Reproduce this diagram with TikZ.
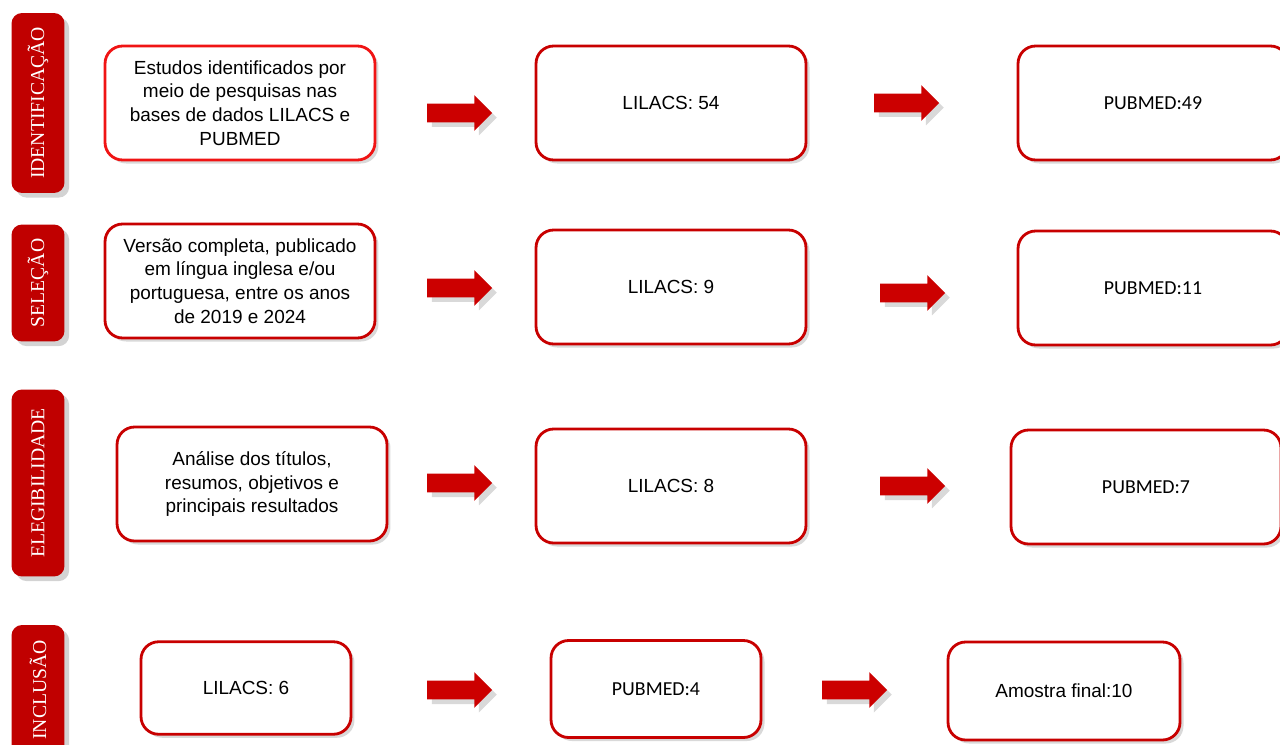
\documentclass[tikz,border=0pt]{standalone}
\usepackage{fontspec}
\setmainfont{Liberation Sans}
\newfontfamily\calibrifont{Carlito}
\newfontfamily\timesfont{Liberation Serif}
\usetikzlibrary{shapes.arrows,shadows}

\definecolor{redbox}{RGB}{200,0,0}
\definecolor{redlight}{RGB}{240,20,20}
\definecolor{redarrow}{RGB}{204,0,0}
\definecolor{redstage}{RGB}{192,0,0}

\tikzset{
  stage/.style={fill=redstage, rounded corners=6pt, rotate=90, text=white,
    minimum height=1.06cm, inner sep=0pt, drop shadow={opacity=0.35},
    font=\timesfont\fontsize{11.2}{13}\selectfont},
  box/.style={draw=redbox, line width=1.6pt, rounded corners=10pt, fill=white,
    minimum width=5.4cm, minimum height=2.28cm, align=center,
    drop shadow={opacity=0.3, shadow xshift=2pt, shadow yshift=-2pt},
    font=\fontsize{10.8}{13.5}\selectfont},
  smallbox/.style={box, minimum width=4.2cm, minimum height=1.85cm},
  dbtext/.style={font=\calibrifont\fontsize{11.3}{13}\selectfont},
  bigarrow/.style={single arrow, fill=redarrow, inner xsep=0pt, inner ysep=0.18cm,
    minimum width=0.7cm, single arrow head extend=0.17cm, single arrow head indent=0pt,
    minimum height=1.3cm, drop shadow={opacity=0.3}}
}

\begin{document}
\begin{tikzpicture}[x=0.02cm,y=-0.02cm]
  \clip (0,0) rectangle (1280,744);
  \useasboundingbox (0,0) rectangle (1280,744);

  % Stages
  \node[stage, minimum width=3.6cm] (ident) at (38,103) {IDENTIFICAÇÃO};
  \node[stage, minimum width=2.34cm] (selec) at (38,283) {SELEÇÃO};
  \node[stage, minimum width=3.74cm] (eleg) at (38,483) {ELEGIBILIDADE};
  \node[stage, minimum width=2.6cm] (incl) at (38,690) {INCLUSÃO};

  % Identificacao
  \node[box, draw=redlight] (estudos) at (240,103) {Estudos identificados por\\meio de pesquisas nas\\bases de dados LILACS e\\PUBMED};
  \node[box] (lilacsA) at (671,103) {LILACS: 54};
  \node[box, dbtext] (pubmedA) at (1153,103) {PUBMED:49};
  \node[bigarrow] (arrA1) at (455,113) {};
  \node[bigarrow] (arrA2) at (902,103) {};

  % Selecao
  \node[box] (versao) at (240,281) {Versão completa, publicado\\em língua inglesa e/ou\\portuguesa, entre os anos\\de 2019 e 2024};
  \node[box] (lilacsB) at (671,287) {LILACS: 9};
  \node[box, dbtext] (pubmedB) at (1153,288) {PUBMED:11};
  \node[bigarrow] (arrB1) at (455,288) {};
  \node[bigarrow] (arrB2) at (908,293) {};

  % Elegibilidade
  \node[box] (analise) at (252,484) {Análise dos títulos,\\resumos, objetivos e\\principais resultados};
  \node[box] (lilacsC) at (671,486) {LILACS: 8};
  \node[box, dbtext] (pubmedC) at (1146,487) {PUBMED:7};
  \node[bigarrow] (arrC1) at (455,483) {};
  \node[bigarrow] (arrC2) at (908,486) {};

  % Inclusao
  \node[smallbox] (lilacsD) at (246,688) {LILACS: 6};
  \node[smallbox, dbtext, minimum width=4.2cm, minimum height=1.94cm] (pubmedD) at (656,689) {PUBMED:4};
  \node[smallbox, minimum width=4.64cm, minimum height=1.96cm] (amostra) at (1064,691) {Amostra final:10};
  \node[bigarrow] (arrD1) at (455,690) {};
  \node[bigarrow] (arrD2) at (850,690) {};
\end{tikzpicture}
\end{document}
